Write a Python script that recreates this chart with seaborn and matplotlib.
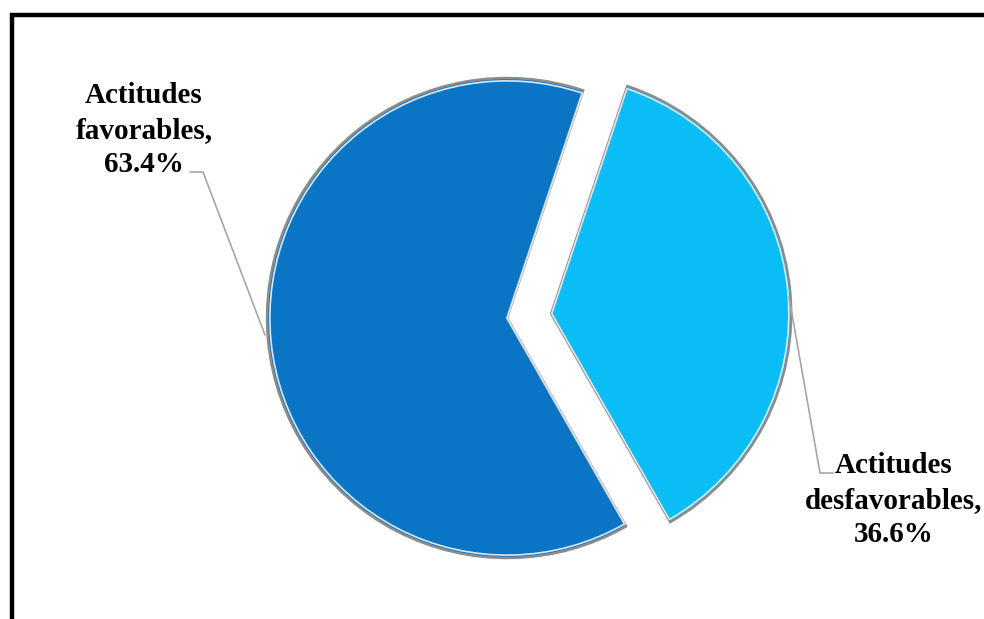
import matplotlib
matplotlib.use("Agg")
import matplotlib.pyplot as plt
import seaborn as sns
from matplotlib.lines import Line2D

# Data
categories = ["Actitudes favorables", "Actitudes desfavorables"]
values = [63.4, 36.6]
labels = ["Actitudes\nfavorables,\n63.4%", "Actitudes\ndesfavorables,\n36.6%"]

sns.set_theme(style="white")
plt.rcParams["font.family"] = ["Liberation Serif", "DejaVu Serif"]

colors = sns.color_palette(["#0A75C4", "#0ABDF4"])

W, H = 984, 619
fig = plt.figure(figsize=(W / 100, H / 100), dpi=100)
ax = fig.add_axes([0, 0, 1, 1])

CX, CY, S = 507, 318, 240.0


def px(x, y):
    return (x - CX) / S, (CY - y) / S


wedges, _ = ax.pie(values, colors=colors, startangle=71.5, counterclock=True,
                   explode=[0, 0.185], radius=1.0,
                   wedgeprops=dict(edgecolor="#8C8C8C", linewidth=1.8))
# light inner rim for a bevel look
ax.pie(values, colors=["none", "none"], startangle=71.5, counterclock=True,
       explode=[0, 0.185 / 0.988], radius=0.988,
       wedgeprops=dict(edgecolor="#D8E8F4", linewidth=1.2, fill=False))

ax.set_aspect("auto")
ax.set_xlim(-CX / S, (W - CX) / S)
ax.set_ylim((CY - H) / S, CY / S)
ax.axis("off")

# Leader lines
lc = "#A6A6A6"
xs, ys = zip(*[px(190, 172), px(203, 172), px(265, 335)])
ax.add_line(Line2D(xs, ys, color=lc, lw=1.2))
xs, ys = zip(*[px(789, 297), px(820, 473), px(833, 473)])
ax.add_line(Line2D(xs, ys, color=lc, lw=1.2))

# Labels (va='baseline' aligns the last line's baseline)
tx, ty = px(144, 172)
ax.text(tx, ty, labels[0], ha="center", va="baseline", fontsize=21,
        fontweight="bold", linespacing=1.35, color="black")
tx, ty = px(894, 542)
ax.text(tx, ty, labels[1], ha="center", va="baseline", fontsize=21,
        fontweight="bold", linespacing=1.35, color="black")

# Frame border (cut off at right/bottom)
fig.add_artist(Line2D([12 / W, 12 / W, 1.0], [0.0, 1 - 15 / H, 1 - 15 / H],
                      transform=fig.transFigure, color="black", lw=3.2,
                      solid_joinstyle="miter"))

fig.savefig("out.png", dpi=100)
